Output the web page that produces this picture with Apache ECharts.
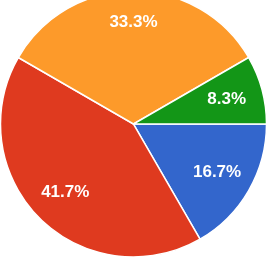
<!DOCTYPE html>
<html>
<head>
<meta charset="utf-8">
<script src="https://cdn.jsdelivr.net/npm/echarts@6/dist/echarts.min.js"></script>
<style>
html,body{margin:0;padding:0;background:#fff;}
#chart{width:267px;height:257px;}
</style>
</head>
<body>
<div id="chart"></div>
<script>
const categories = ['A', 'B', 'C', 'D'];
const values = [2, 5, 4, 1];

const sliceColors = ['#3366cc', '#df3a1f', '#fd9a2a', '#139617'];
const labelOffsets = [[0, 0], [0, 0], [0, -5], [0, 0]];

const chart = echarts.init(document.getElementById('chart'), null, {renderer: 'canvas'});
const total = values.reduce((a, b) => a + b, 0);
chart.setOption({
  animation: false,
  series: [
    {
      type: 'pie',
      center: [133.5, 124],
      radius: [0, 133],
      startAngle: 0,
      clockwise: true,
      silent: true,
      data: categories.map((c, i) => ({name: c, value: values[i], itemStyle: {color: sliceColors[i]}})),
      itemStyle: {borderColor: '#ffffff', borderWidth: 1.5},
      label: {show: false},
      labelLine: {show: false}
    },
    {
      type: 'pie',
      center: [133.5, 124],
      radius: [54, 133],
      startAngle: 0,
      clockwise: true,
      silent: true,
      data: categories.map((c, i) => ({name: c, value: values[i], label: {offset: labelOffsets[i]}})),
      itemStyle: {color: 'rgba(0,0,0,0)', borderWidth: 0},
      label: {
        show: true,
        position: 'inside',
        color: '#ffffff',
        fontSize: 17,
        fontWeight: 'bold',
        fontFamily: 'Liberation Sans, Arial, sans-serif',
        formatter: p => (p.value / total * 100).toFixed(1) + '%'
      },
      labelLine: {show: false}
    }
  ]
});
</script>
</body>
</html>
